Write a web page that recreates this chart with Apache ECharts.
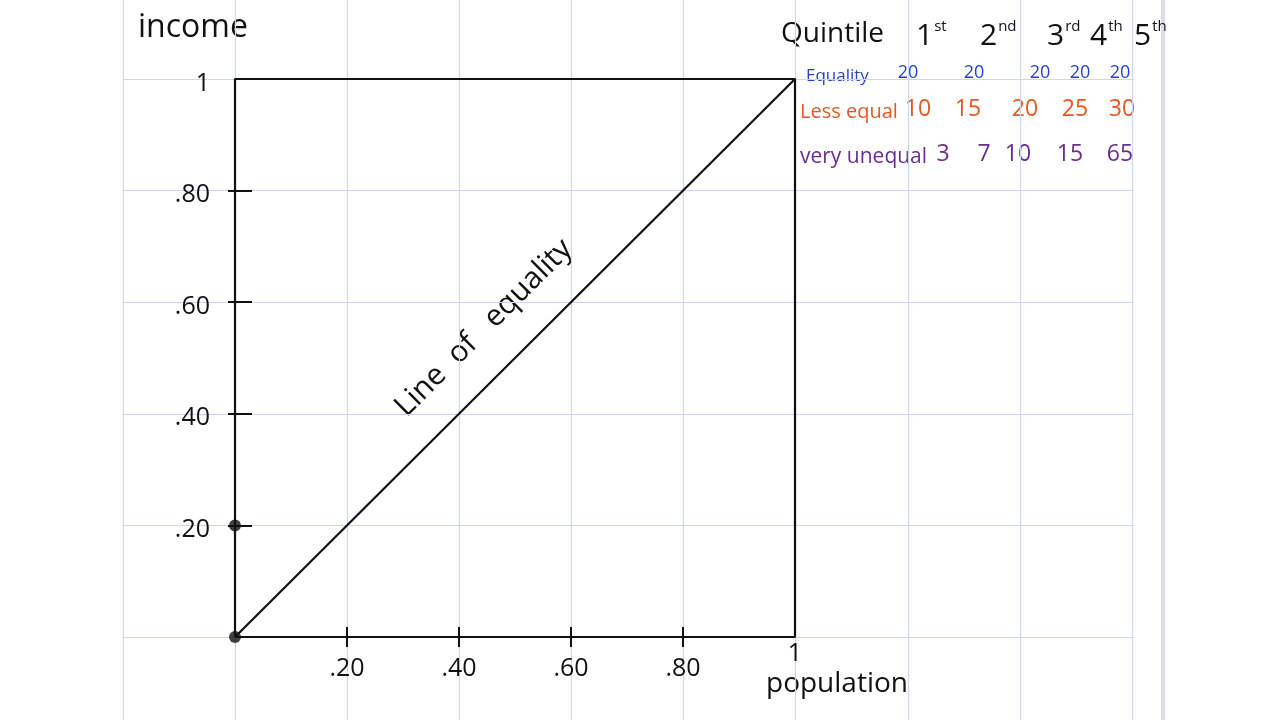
<!DOCTYPE html>
<html>
<head>
<meta charset="utf-8">
<script src="https://cdn.jsdelivr.net/npm/echarts@6/dist/echarts.min.js"></script>
<style>html,body{margin:0;padding:0;background:#fff}#c{width:1280px;height:720px}</style>
</head>
<body>
<div id="c"></div>
<script>
// ---- data ----
var quintiles = ['1', '2', '3', '4', '5'];
var quintileSuffix = ['st', 'nd', 'rd', 'th', 'th'];
var rowNames = ['Equality', 'Less equal', 'very unequal'];
var equality = [20, 20, 20, 20, 20];
var lessEqual = [10, 15, 20, 25, 30];
var veryUnequal = [3, 7, 10, 15, 65];
var xTickValues = [0.2, 0.4, 0.6, 0.8];
var yTickValues = [0.2, 0.4, 0.6, 0.8, 1];
var tickLabels = { '0.2': '.20', '0.4': '.40', '0.6': '.60', '0.8': '.80', '1': '1' };
var boxPath = [[0, 0], [1, 0], [1, 1], [0, 1], [0, 0]];
var equalityLine = [[0, 0], [1, 1]];
var originDots = [[0, 0], [0, 0.2]];

// ---- layout / style ----
var FONT = 'Open Sans, Lato, sans-serif';
var gridColor = '#cdd6ea';
var rowColors = ['#2342c6', '#e8561e', '#6a2c8e'];
var rowY = [76, 112, 157];
var rowLabelX = [806, 800, 800];
var rowLabelSize = [17, 20, 21];
var colX = [
  [908, 974, 1040, 1080, 1120],
  [918, 968, 1025, 1075, 1122],
  [943, 984, 1018, 1070, 1120]
];
var headerX = [916, 980, 1047, 1090, 1134];

function fmt(v) { return tickLabels[String(Math.round(v * 10) / 10)] || ''; }

var chart = echarts.init(document.getElementById('c'));

var graphics = [];
// page edge of the notebook sheet
graphics.push({ type: 'rect', shape: { x: 1161, y: 0, width: 4, height: 720 }, style: { fill: '#d9dde6' }, silent: true, z: -1 });
// axis titles
graphics.push({ type: 'text', left: 138, top: 12, style: { text: 'income', font: '32px ' + FONT, fill: '#111' } });
graphics.push({ type: 'text', left: 766, top: 670, style: { text: 'population', font: '28px ' + FONT, fill: '#111' } });
graphics.push({ type: 'text', left: 781, top: 20, style: { text: 'Quintile', font: '28px ' + FONT, fill: '#111' } });
// header
quintiles.forEach(function (q, i) {
  graphics.push({ type: 'text', x: headerX[i], y: 54, style: {
    text: '{n|' + q + '}{s|' + quintileSuffix[i] + '}',
    textVerticalAlign: 'bottom',
    rich: { n: { font: '30px ' + FONT, fill: '#111' }, s: { font: '15px ' + FONT, fill: '#111', padding: [0, 0, 20, 1] } }
  }});
});
// rows
var rows = [equality, lessEqual, veryUnequal];
rows.forEach(function (vals, r) {
  graphics.push({ type: 'text', x: rowLabelX[r], y: rowY[r], style: { text: rowNames[r], font: rowLabelSize[r] + 'px ' + FONT, fill: rowColors[r], textVerticalAlign: 'middle' } });
  vals.forEach(function (v, i) {
    graphics.push({ type: 'text', x: colX[r][i], y: rowY[r] - 3, style: { text: String(v), font: (r === 0 ? 18 : 23) + 'px ' + FONT, fill: rowColors[r], textAlign: 'center', textVerticalAlign: 'middle' } });
  });
});
// rotated label
graphics.push({ type: 'text', x: 484, y: 328, rotation: Math.PI / 4, style: { text: 'Line  of   equality', font: '30px ' + FONT, fill: '#111', textAlign: 'center', textVerticalAlign: 'middle' } });

var option = {
  animation: false,
  backgroundColor: '#fff',
  grid: [
    { left: 123, right: 148, top: 0, bottom: 0 },      // paper verticals
    { left: 123, right: 146, top: 79, bottom: 83 },    // paper horizontals
    { left: 235, right: 485, top: 79, bottom: 83 }     // the plot square
  ],
  xAxis: [
    { gridIndex: 0, type: 'value', min: -0.2, max: 1.6, interval: 0.2,
      axisLine: { show: false }, axisTick: { show: false }, axisLabel: { show: false },
      splitLine: { show: true, lineStyle: { color: gridColor, width: 1.2 } } },
    { gridIndex: 1, type: 'value', min: 0, max: 1, show: false },
    { gridIndex: 2, type: 'value', min: 0, max: 1, interval: 0.2, position: 'bottom', offset: -10,
      axisLine: { show: false }, splitLine: { show: false },
      axisTick: { show: true, length: 20, customValues: xTickValues, lineStyle: { color: '#111', width: 2 } },
      axisLabel: { customValues: xTickValues, margin: 29, formatter: fmt, fontFamily: FONT, fontSize: 25, color: '#111' } },
    { gridIndex: 2, type: 'value', min: 0, max: 1, interval: 0.2, position: 'bottom', offset: 0,
      axisLine: { show: false }, splitLine: { show: false }, axisTick: { show: false },
      axisLabel: { customValues: [1], margin: 4, formatter: fmt, fontFamily: FONT, fontSize: 25, color: '#111' } }
  ],
  yAxis: [
    { gridIndex: 0, type: 'value', min: 0, max: 1, show: false },
    { gridIndex: 1, type: 'value', min: 0, max: 1, interval: 0.2,
      axisLine: { show: false }, axisTick: { show: false }, axisLabel: { show: false },
      splitLine: { show: true, lineStyle: { color: gridColor, width: 1.2 } } },
    { gridIndex: 2, type: 'value', min: 0, max: 1, interval: 0.2, offset: -17,
      axisLine: { show: false }, splitLine: { show: false },
      axisTick: { show: true, length: 24, customValues: [0.2, 0.4, 0.6, 0.8], lineStyle: { color: '#111', width: 2 } },
      axisLabel: { customValues: yTickValues, margin: 42, formatter: fmt, fontFamily: FONT, fontSize: 25, color: '#111', verticalAlign: 'top', padding: [-8, 0, 0, 0] } }
  ],
  series: [
    { type: 'line', xAxisIndex: 2, yAxisIndex: 2, data: boxPath, symbol: 'none',
      lineStyle: { color: '#111', width: 2.2 } },
    { type: 'line', xAxisIndex: 2, yAxisIndex: 2, data: equalityLine, symbol: 'none',
      lineStyle: { color: '#111', width: 2.2 } },
    { type: 'scatter', xAxisIndex: 2, yAxisIndex: 2, data: originDots, symbolSize: 12,
      itemStyle: { color: '#111' } }
  ],
  graphic: graphics
};
chart.setOption(option);
</script>
</body>
</html>
